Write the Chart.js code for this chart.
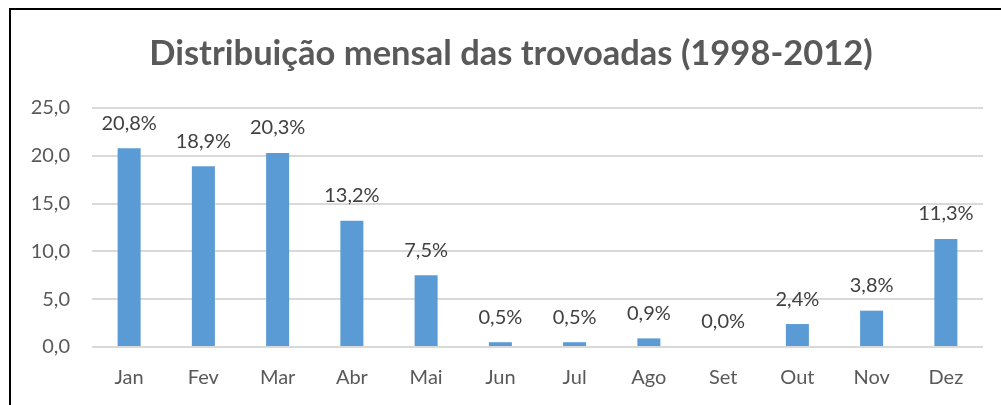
<!DOCTYPE html>
<html>
<head>
<meta charset="utf-8">
<script src="https://cdn.jsdelivr.net/npm/chart.js@4"></script>
<style>
  html, body { margin: 0; padding: 0; background: #fff; }
  #wrap { position: relative; width: 1001px; height: 405px; overflow: hidden; }
  #frame { position: absolute; left: 9px; top: 8px; width: 1100px; height: 500px; border: 2px solid #000; }
  #chart { position: absolute; left: 0; top: 0; }
</style>
</head>
<body>
<div id="wrap">
  <div id="frame"></div>
  <canvas id="chart" width="1001" height="405"></canvas>
</div>
<script>
const months = ["Jan", "Fev", "Mar", "Abr", "Mai", "Jun", "Jul", "Ago", "Set", "Out", "Nov", "Dez"];
const shares = [20.8, 18.9, 20.3, 13.2, 7.5, 0.5, 0.5, 0.9, 0.0, 2.4, 3.8, 11.3];
const yTicks = [0, 5, 10, 15, 20, 25];
const titleText = "Distribuição mensal das trovoadas (1998-2012)";

const fontFamily = "Lato, 'Open Sans', sans-serif";
const fmt = (v, d) => v.toFixed(d).replace(".", ",");

// title centred on the whole frame (Excel style), plus labels above each bar
const barLabels = {
  id: "barLabels",
  afterDraw(chart) {
    const ctx = chart.ctx;
    ctx.save();
    ctx.font = "bold 34.5px " + fontFamily;
    ctx.fillStyle = "#595959";
    ctx.textAlign = "center";
    ctx.textBaseline = "middle";
    ctx.fillText(titleText, 511, 54);
    ctx.restore();
  },
  afterDatasetsDraw(chart) {
    const ctx = chart.ctx;
    const meta = chart.getDatasetMeta(0);
    ctx.save();
    ctx.font = "20px " + fontFamily;
    ctx.fillStyle = "#404040";
    ctx.textAlign = "center";
    ctx.textBaseline = "middle";
    meta.data.forEach((bar, i) => {
      ctx.fillText(fmt(shares[i], 1) + "%", bar.x, bar.y - 25);
    });
    ctx.restore();
  },
};

new Chart(document.getElementById("chart"), {
  type: "bar",
  plugins: [barLabels],
  data: {
    labels: months,
    datasets: [{
      data: shares,
      backgroundColor: "#5b9bd5",
      categoryPercentage: 1,
      barPercentage: 0.31,
    }],
  },
  options: {
    responsive: false,
    animation: false,
    layout: { padding: { left: 0, right: 18, top: 108, bottom: 0 } },
    plugins: {
      legend: { display: false },
      tooltip: { enabled: false },
      title: { display: false },
    },
    scales: {
      x: {
        grid: { display: false, drawTicks: false },
        border: { display: false },
        ticks: { color: "#595959", font: { family: fontFamily, size: 20 }, padding: 19 },
        afterFit: (s) => { s.height = 58; },
      },
      y: {
        min: 0,
        max: 25,
        afterBuildTicks: (s) => { s.ticks = yTicks.map((v) => ({ value: v })); },
        grid: { color: "#d9d9d9", lineWidth: 2, drawTicks: false },
        border: { display: false },
        ticks: {
          color: "#595959",
          font: { family: fontFamily, size: 20 },
          padding: 22,
          callback: (v) => fmt(v, 1),
        },
        afterFit: (s) => { s.width = 92; },
      },
    },
  },
});
</script>
</body>
</html>
